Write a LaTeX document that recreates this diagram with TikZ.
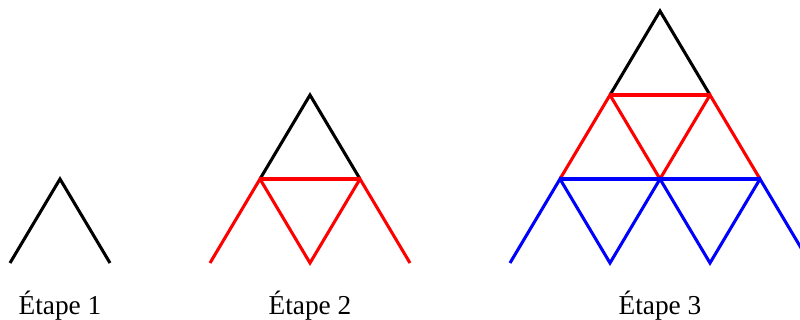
\documentclass[tikz,border=0pt]{standalone}
\usepackage{fontspec}
\setmainfont{Liberation Serif}
\begin{document}
\begin{tikzpicture}[x=0.75pt,y=-0.75pt,
  seg/.style={line width=2.3pt},
  blk/.style={seg,black},
  rd/.style={seg,red},
  bl/.style={seg,blue},
  lab/.style={anchor=base,font=\fontsize{20.5}{24}\selectfont,inner sep=0pt}]
\useasboundingbox (0,0) rectangle (800,320);
\clip (0,0) rectangle (800,320);
% Stage 1
\coordinate (a1) at (10,263);
\coordinate (a2) at (60,179);
\coordinate (a3) at (110,263);
\draw[blk] (a1) -- (a2) -- (a3);
\node[lab] (l1) at (60,315) {Étape 1};
% Stage 2
\coordinate (b0) at (310,95);
\coordinate (b1) at (260,179);
\coordinate (b2) at (360,179);
\coordinate (b3) at (210,263);
\coordinate (b4) at (310,263);
\coordinate (b5) at (410,263);
\draw[blk] (b1) -- (b0) -- (b2);
\draw[rd] (b1) -- (b2);
\draw[rd] (b3) -- (b1) -- (b4) -- (b2) -- (b5);
\node[lab] (l2) at (310,315) {Étape 2};
% Stage 3
\coordinate (c0) at (660,11);
\coordinate (c1) at (610,95);
\coordinate (c2) at (710,95);
\coordinate (c3) at (560,179);
\coordinate (c4) at (660,179);
\coordinate (c5) at (760,179);
\coordinate (c6) at (510,263);
\coordinate (c7) at (610,263);
\coordinate (c8) at (710,263);
\coordinate (c9) at (810,263);
\draw[blk] (c1) -- (c0) -- (c2);
\draw[rd] (c1) -- (c2);
\draw[rd] (c3) -- (c1) -- (c4) -- (c2) -- (c5);
\draw[bl] (c3) -- (c5);
\draw[bl] (c6) -- (c3) -- (c7) -- (c4) -- (c8) -- (c5) -- (c9);
\node[lab] (l3) at (660,315) {Étape 3};
\end{tikzpicture}
\end{document}
